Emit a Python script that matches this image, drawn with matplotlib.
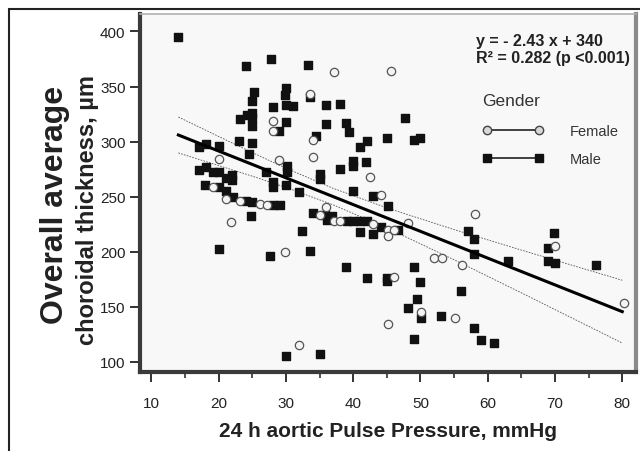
import matplotlib
matplotlib.use('Agg')
import matplotlib.pyplot as plt
from matplotlib.lines import Line2D
from matplotlib.patches import Rectangle
import numpy as np

plt.rcParams['font.family'] = ['Liberation Sans', 'DejaVu Sans']

# Female points (open circles)
female_x = [37.1, 45.6, 33.5, 28.1, 28.1, 34.0, 34.0, 20.1, 29.0, 42.5, 44.1, 19.1,
            21.1, 23.2, 26.2, 27.2, 21.8, 29.9, 46.1, 45.1, 32.0, 35.1, 36.0, 37.1,
            38.1, 42.9, 45.1, 46.1, 45.1, 48.2, 52.0, 53.2, 58.1, 56.1, 70.0, 80.2,
            50.1, 55.2]
female_y = [363, 364.4, 343.3, 319.1, 310, 301.8, 286.4, 284.3, 283.4, 267.7, 251.6, 258.6,
            248, 245.6, 243.5, 242.8, 226.9, 199.6, 177, 134.6, 114.9, 233.5, 240.5, 228.3,
            228.3, 225.3, 220.1, 220.1, 214.7, 226, 194.2, 194.2, 234.4, 187.5, 205.6, 153.6,
            145.2, 139.8]

# Male points (filled squares)
male_x = [14.0, 24.0, 27.8, 33.3, 25.3, 30.0, 29.8, 33.5, 24.9, 28.1, 30.0, 31.0,
          35.9, 38.0, 23.1, 24.2, 24.9, 25.0, 25.0, 29.0, 30.0, 35.9, 39.0, 39.4,
          34.5, 42.0, 41.0, 45.0, 17.1, 18.1, 20.0, 23.0, 25.0, 24.5, 30.1, 30.1,
          27.1, 28.1, 28.1, 30.0, 32.0, 35.0, 35.0, 38.0, 40.0, 40.0, 41.9, 40.0,
          43.0, 45.2, 17.1, 18.1, 19.1, 20.0, 21.1, 22.0, 22.0, 18.0, 20.1, 21.1,
          22.1, 24.0, 24.9, 28.1, 29.1, 24.8, 20.0, 27.7, 33.6, 32.4, 39.0, 42.0,
          45.0, 45.0, 30.0, 35.0, 34.0, 35.8, 36.8, 36.1, 39.1, 40.0, 41.0, 42.0,
          44.1, 41.0, 43.0, 46.7, 57.0, 58.0, 58.0, 63.0, 69.9, 69.0, 69.0,
          70.0, 76.1, 49.0, 50.0, 49.5, 48.1, 50.1, 53.0, 56.0, 49.0, 58.0, 59.0,
          61.0, 47.7, 49.0, 50.0]
male_y = [394.7, 368.4, 375, 369.6, 345.4, 348.5, 342.4, 340.3, 337.2, 331.8, 333.6, 332.1,
          333.3, 333.9, 320.6, 324.2, 326, 321.2, 314, 309.4, 318.2, 315.8, 317, 308.5,
          305.4, 300.9, 294.9, 303.4, 294.9, 297.9, 295.8, 300.4, 298.8, 288.8, 278.2, 272.2,
          272.8, 263.7, 258.6, 260.7, 254.6, 270.7, 266.2, 275.2, 282.8, 277.7, 281.9, 255.5,
          251, 241.4, 274.6, 277.3, 272.2, 272.8, 267, 269.8, 265.5, 260.7, 258.6, 255,
          249.5, 246.5, 245, 242.6, 242.6, 232.8, 202.6, 196, 201.1, 219.2, 186, 176,
          176, 173, 104.9, 106.7, 235.3, 233.5, 232.8, 229.2, 228, 228, 228, 227.5,
          222.3, 218.3, 216.2, 220.1, 219.2, 211.7, 197.5, 192, 216.9, 203.5, 192,
          190, 188.4, 186, 172.4, 157.3, 148.8, 139.8, 141.6, 164.2, 121, 131, 120.3,
          117.3, 321.2, 301.8, 303.4]

# Regression y = -2.43 x + 340 over the data range
slope = -2.43
intercept = 340
fit_x = [14, 80]

# Confidence band
band_x = [14, 20, 25, 30, 37, 45, 55, 65, 80]
band_hi = [322.3, 304.6, 290.0, 275.8, 257.6, 239.8, 220.1, 201.5, 174.1]
band_lo = [289.7, 278.2, 268.6, 258.4, 242.6, 221.6, 192.7, 162.7, 117.1]

fig = plt.figure(figsize=(6.4, 4.52), dpi=100)
ax = fig.add_axes([0.219, 0.175, 0.775, 0.792])
ax.set_facecolor('#f8f8f8')

ax.plot(band_x, band_hi, color='#555555', lw=0.6, ls=(0, (2, 1.5)), zorder=2)
ax.plot(band_x, band_lo, color='#555555', lw=0.6, ls=(0, (2, 1.5)), zorder=2)

ax.scatter(male_x, male_y, marker='s', s=30, color='#111111', zorder=3)
ax.scatter(female_x, female_y, marker='o', s=36, facecolor='#f4f4f4',
           edgecolor='#555555', linewidth=0.9, zorder=3)

fx = np.array(fit_x)
ax.plot(fx, slope * fx + intercept, color='black', lw=2.2, zorder=4)

ax.set_xlim(8.32, 82.07)
ax.set_ylim(90.9, 415.9)
ax.set_xticks(range(10, 81, 10))
ax.set_xticks(range(15, 81, 10), minor=True)
ax.set_yticks(range(100, 401, 50))
ax.tick_params(axis='both', which='major', direction='out', length=7, width=1.4,
               color='#333333', labelsize=11, labelcolor='#222222')
ax.tick_params(axis='x', which='minor', direction='out', length=4, width=1.2,
               color='#333333')
ax.tick_params(axis='x', pad=10)

for side in ['left', 'bottom']:
    ax.spines[side].set_linewidth(3)
    ax.spines[side].set_color('#3a3a3a')
ax.spines['right'].set_linewidth(3)
ax.spines['right'].set_color('#8a8a8a')
ax.spines['top'].set_linewidth(1.2)
ax.spines['top'].set_color('#b0b0b0')

ax.set_xlabel('24 h aortic Pulse Pressure, mmHg', fontsize=15, fontweight='bold',
              color='#222222', labelpad=8)
# two-line y label, first line in a larger size
fig.text(55 / 640, 1 - 205 / 452, 'Overall average', rotation=90, fontsize=23,
         fontweight='bold', color='#222222', ha='center', va='center')
fig.text(88 / 640, 1 - 210 / 452, 'choroidal thickness, µm', rotation=90, fontsize=17,
         fontweight='bold', color='#222222', ha='center', va='center')

ax.text(0.677, 0.902, 'y = - 2.43 x + 340\nR² = 0.282 (p <0.001)', transform=ax.transAxes,
        fontsize=11.5, fontweight='bold', color='#222222', va='center', ha='left',
        linespacing=1.1)

handles = [Line2D([0], [0], color='#222222', lw=1.2, marker='o', markersize=6,
                  markerfacecolor='#d8d8d8', markeredgecolor='#444444'),
           Line2D([0], [0], color='#222222', lw=1.2, marker='s', markersize=5.5,
                  markerfacecolor='#111111', markeredgecolor='#111111')]
leg = ax.legend(handles, ['Female', 'Male'], title='Gender', loc='upper left',
                bbox_to_anchor=(0.69, 0.78), frameon=False, numpoints=2,
                handlelength=4.2, handletextpad=1.8, fontsize=10.5, labelspacing=0.95,
                borderpad=0, borderaxespad=0)
leg.get_title().set_fontsize(12.5)
leg.get_title().set_color('#333333')
leg._legend_box.align = 'left'
leg._legend_box.sep = 12
for t in leg.get_texts():
    t.set_color('#333333')

# outer frame of the figure
fig.patches.append(Rectangle((9 / 640, -0.05), 1.1, 1 - 10 / 452 + 0.05,
                             transform=fig.transFigure, fill=False,
                             edgecolor='#222222', lw=1.5))

fig.savefig('out.png', dpi=100)
